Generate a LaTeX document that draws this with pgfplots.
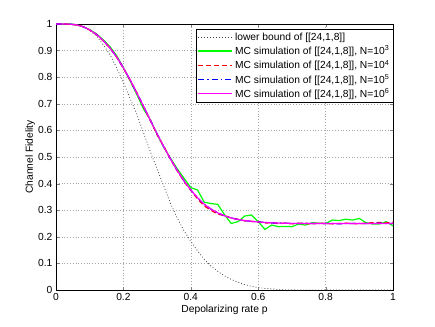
\documentclass[border=0pt]{standalone}
\usepackage{pgfplots}
\usepackage{pgfplotstable}
\usepackage{fontspec}
\setmainfont{Liberation Sans}
\pgfplotsset{compat=1.18}
\definecolor{mgreen}{rgb}{0,1,0}
\definecolor{mred}{rgb}{1,0,0}
\definecolor{mblue}{rgb}{0,0,1}
\definecolor{mmagenta}{rgb}{1,0,1}

% lower bound
\pgfplotstableread{
p F
0 1
0.02 1
0.04 1
0.06 0.998
0.08 0.99
0.10 0.977
0.12 0.955
0.14 0.922
0.16 0.885
0.18 0.835
0.20 0.78
0.22 0.72
0.24 0.66
0.26 0.59
0.28 0.52
0.30 0.455
0.32 0.39
0.34 0.325
0.36 0.27
0.38 0.222
0.40 0.183
0.42 0.147
0.44 0.115
0.46 0.09
0.48 0.07
0.50 0.053
0.52 0.04
0.54 0.029
0.56 0.02
0.58 0.014
0.60 0.009
0.62 0.006
0.64 0.004
0.66 0.002
0.68 0.001
0.70 0.0005
0.75 0
0.80 0
0.85 0
0.90 0
0.95 0
1.00 0
}\lowerbound

% N = 10^3
\pgfplotstableread{
p F
0 1
0.02 1
0.04 1
0.06 0.997
0.08 0.99
0.10 0.979
0.12 0.963
0.14 0.941
0.16 0.915
0.18 0.881
0.20 0.836
0.22 0.786
0.24 0.735
0.26 0.68
0.28 0.64
0.30 0.585
0.32 0.536
0.34 0.495
0.36 0.455
0.38 0.42
0.40 0.385
0.42 0.376
0.44 0.33
0.46 0.325
0.48 0.322
0.50 0.283
0.52 0.25
0.54 0.257
0.56 0.278
0.58 0.282
0.60 0.257
0.62 0.228
0.64 0.244
0.66 0.238
0.68 0.239
0.70 0.238
0.72 0.248
0.74 0.244
0.76 0.253
0.78 0.251
0.80 0.25
0.82 0.263
0.84 0.261
0.86 0.266
0.88 0.263
0.90 0.269
0.92 0.253
0.94 0.248
0.96 0.248
0.98 0.257
1.00 0.241
}\mcA

% N = 10^4
\pgfplotstableread{
p F
0 1
0.02 1
0.04 0.999
0.06 0.997
0.08 0.99
0.10 0.977
0.12 0.96
0.14 0.937
0.16 0.91
0.18 0.875
0.20 0.834
0.22 0.789
0.24 0.741
0.26 0.689
0.28 0.637
0.30 0.584
0.32 0.540
0.34 0.491
0.36 0.448
0.38 0.408
0.40 0.375
0.42 0.343
0.44 0.316
0.46 0.300
0.48 0.285
0.50 0.280
0.52 0.270
0.54 0.266
0.56 0.260
0.58 0.258
0.60 0.256
0.62 0.252
0.64 0.253
0.66 0.250
0.68 0.251
0.70 0.249
0.72 0.251
0.74 0.250
0.76 0.249
0.78 0.251
0.80 0.250
0.82 0.249
0.84 0.250
0.86 0.251
0.88 0.250
0.90 0.249
0.92 0.251
0.94 0.253
0.96 0.254
0.98 0.252
1.00 0.255
}\mcB

% N = 10^5
\pgfplotstableread{
p F
0 1
0.02 1
0.04 0.9995
0.06 0.997
0.08 0.99
0.10 0.978
0.12 0.961
0.14 0.938
0.16 0.91
0.18 0.876
0.20 0.835
0.22 0.79
0.24 0.74
0.26 0.69
0.28 0.638
0.30 0.587
0.32 0.538
0.34 0.492
0.36 0.449
0.38 0.41
0.40 0.376
0.42 0.347
0.44 0.322
0.46 0.304
0.48 0.29
0.50 0.279
0.52 0.271
0.54 0.265
0.56 0.261
0.58 0.258
0.60 0.256
0.62 0.254
0.64 0.252
0.66 0.252
0.68 0.251
0.70 0.250
0.72 0.250
0.74 0.251
0.76 0.250
0.78 0.250
0.80 0.250
0.82 0.250
0.84 0.249
0.86 0.250
0.88 0.250
0.90 0.250
0.92 0.250
0.94 0.250
0.96 0.251
0.98 0.250
1.00 0.250
}\mcC

% N = 10^6
\pgfplotstableread{
p F
0 1
0.02 1
0.04 0.9995
0.06 0.997
0.08 0.99
0.10 0.978
0.12 0.961
0.14 0.938
0.16 0.91
0.18 0.876
0.20 0.835
0.22 0.79
0.24 0.74
0.26 0.69
0.28 0.638
0.30 0.587
0.32 0.538
0.34 0.492
0.36 0.449
0.38 0.41
0.40 0.376
0.42 0.347
0.44 0.322
0.46 0.304
0.48 0.29
0.50 0.279
0.52 0.271
0.54 0.265
0.56 0.261
0.58 0.258
0.60 0.2555
0.62 0.254
0.64 0.2525
0.66 0.2515
0.68 0.251
0.70 0.2505
0.75 0.25
0.80 0.25
0.85 0.25
0.90 0.25
0.95 0.25
1.00 0.25
}\mcD

\begin{document}
\fontsize{10.3}{12.4}\selectfont
\begin{tikzpicture}
\useasboundingbox (-56bp,-37bp) rectangle (379bp,290bp);
\begin{axis}[
    scale only axis,
    width=337bp, height=266bp,
    xmin=0, xmax=1, ymin=0, ymax=1,
    xtick={0,0.2,...,1.0},
    ytick={0,0.1,...,1.0},
    tick align=inside,
    major tick length=3.5bp,
    grid=major,
    major grid style={gray!70, dash pattern=on 0.6pt off 2.2pt},
    /pgf/number format/assume math mode=true,
    tick label style={font=\fontsize{10.3}{12.4}\selectfont},
    label style={font=\fontsize{10.3}{12.4}\selectfont},
    xlabel={Depolarizing rate p},
    ylabel={Channel Fidelity},
    xlabel style={yshift=3pt},
    ylabel style={yshift=-4pt},
    legend style={at={(1,0.981)}, anchor=north east, draw=black,
        font=\fontsize{10.3}{12.4}\selectfont, cells={anchor=west},
        row sep=0.2pt, inner sep=1.5pt},
    legend image code/.code={\draw[mark repeat=2,mark phase=2,#1]
        plot coordinates {(0cm,0cm) (0.6cm,0cm) (1.2cm,0cm)};},
]
\addplot[black!75, line width=0.8pt, dash pattern=on 0.8pt off 2.2pt] table[x=p,y=F] {\lowerbound};
\addplot[mgreen, line width=1.2pt] table[x=p,y=F] {\mcA};
\addplot[color=mred, line width=1.3pt, dash pattern=on 5pt off 3pt] table[x=p,y=F] {\mcB};
\addplot[color=mblue, line width=1.2pt, dash pattern=on 6pt off 3pt on 1.2pt off 3pt] table[x=p,y=F] {\mcC};
\addplot[mmagenta, line width=1.2pt] table[x=p,y=F] {\mcD};
\legend{{lower bound of [[24,1,8]]},
    {MC simulation of [[24,1,8]], N=10\textsuperscript{3}},
    {MC simulation of [[24,1,8]], N=10\textsuperscript{4}},
    {MC simulation of [[24,1,8]], N=10\textsuperscript{5}},
    {MC simulation of [[24,1,8]], N=10\textsuperscript{6}}}
\end{axis}
\end{tikzpicture}
\end{document}
